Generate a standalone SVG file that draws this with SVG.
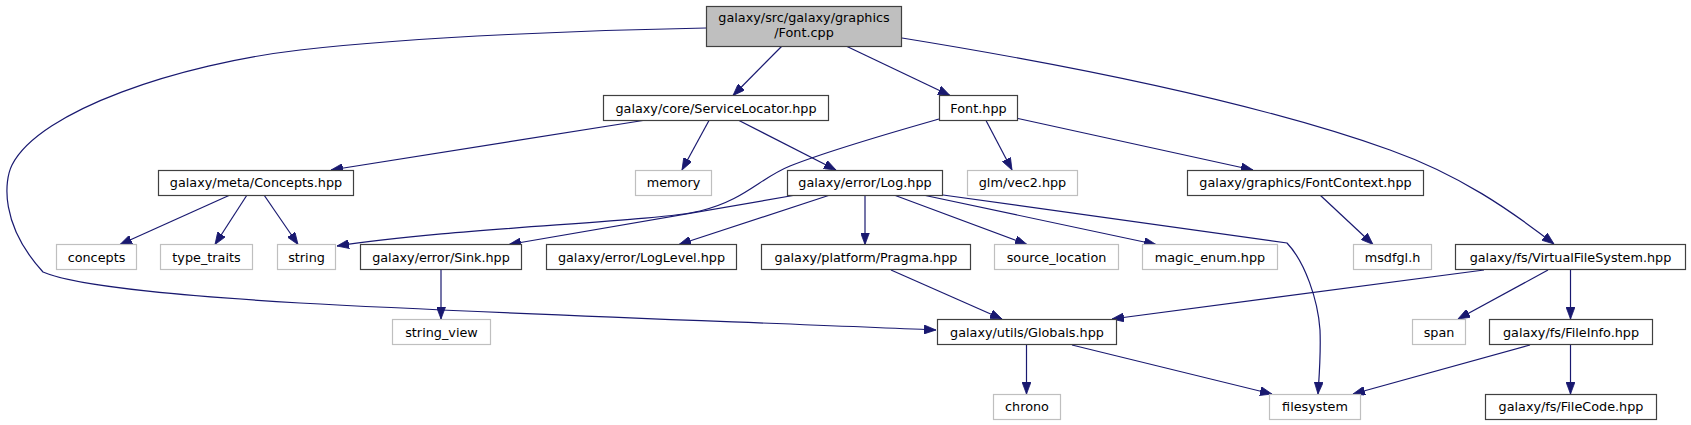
<svg xmlns="http://www.w3.org/2000/svg" width="1691" height="425" viewBox="0 0 1691 425">
<style>
  .n rect { fill: #ffffff; stroke: #404040; stroke-width: 1.2; }
  .x rect { fill: #ffffff; stroke: #bfbfbf; stroke-width: 1.2; }
  .m rect { fill: #bfbfbf; stroke: #404040; stroke-width: 1.2; }
  text { font-family: "DejaVu Sans", "Liberation Sans", sans-serif; font-size: 12.8px; fill: #000000; text-anchor: middle; }
  #edges path { fill: none; stroke: #191970; stroke-width: 1.2; marker-end: url(#arr); }
</style>
<defs>
  <marker id="arr" markerUnits="userSpaceOnUse" markerWidth="12" markerHeight="9" refX="12" refY="4.5" orient="auto">
    <path d="M0,0 L12,4.5 L0,9 Z" fill="#191970" stroke="#191970" stroke-width="0.8"/>
  </marker>
</defs>
<rect width="1691" height="425" fill="#ffffff"/>
<g id="edges">
  <path d="M782,46 L733,95.5"/>
  <path d="M846,46 L950,95.5"/>
  <path d="M706,28 C 600,30 420,36 300,50 C 180,64 40,110 12,165 C 4,181 0,225 43,272 C 80,288 200,297 300,303 C 500,314 750,322 936,330"/>
  <path d="M902,38 C 1050,62 1250,100 1390,150 C 1460,175 1510,210 1554,244"/>
  <path d="M643,120.5 L331,170"/>
  <path d="M709,120.5 L682,170"/>
  <path d="M739,120.5 L836,170"/>
  <path d="M939,119 C 890,133 830,150 790,166 C 760,178 745,200 700,211 C 655,222 450,228 337,246"/>
  <path d="M986,120.5 L1012,170"/>
  <path d="M1018,118.5 L1253,170"/>
  <path d="M230,195 L120,244.5"/>
  <path d="M247,195 L215,244.5"/>
  <path d="M264,195 L298,244.5"/>
  <path d="M796,195 L509,244.5"/>
  <path d="M830,195 L679,244.5"/>
  <path d="M865,195 L865,244.5"/>
  <path d="M894,195 L1027,244.5"/>
  <path d="M923,195 L1156,244.5"/>
  <path d="M943,195 L1287,243 C 1305,262 1318,300 1320,330 C 1321,355 1319,378 1318,394"/>
  <path d="M1320,195 L1373,244.5"/>
  <path d="M1484,270 L1112,319"/>
  <path d="M1548,270 L1458,319"/>
  <path d="M1570.5,270 L1570.5,319"/>
  <path d="M441,270 L441,319"/>
  <path d="M891,270 L1002,319"/>
  <path d="M1026.5,345 L1026.5,394"/>
  <path d="M1072,345 L1272,394"/>
  <path d="M1530,345 L1353,394"/>
  <path d="M1570.5,345 L1570.5,394"/>
</g>
<g id="font_cpp" class="m"><rect x="706.5" y="6.5" width="195" height="40"/><text x="804" y="22">galaxy/src/galaxy/graphics</text><text x="804" y="37">/Font.cpp</text></g>
<g id="service_locator" class="n"><rect x="603.5" y="95.5" width="225" height="25"/><text x="716" y="112.5">galaxy/core/ServiceLocator.hpp</text></g>
<g id="font_hpp" class="n"><rect x="939.5" y="95.5" width="78" height="25"/><text x="978.5" y="112.5">Font.hpp</text></g>
<g id="concepts_hpp" class="n"><rect x="158.5" y="170.5" width="195" height="25"/><text x="256" y="187">galaxy/meta/Concepts.hpp</text></g>
<g id="memory" class="x"><rect x="635.5" y="170.5" width="76" height="25"/><text x="673.5" y="187">memory</text></g>
<g id="log_hpp" class="n"><rect x="787.5" y="170.5" width="155" height="25"/><text x="865" y="187">galaxy/error/Log.hpp</text></g>
<g id="glm_vec2" class="x"><rect x="967.5" y="170.5" width="110" height="25"/><text x="1022.5" y="187">glm/vec2.hpp</text></g>
<g id="font_context" class="n"><rect x="1187.5" y="170.5" width="236" height="25"/><text x="1305.5" y="187">galaxy/graphics/FontContext.hpp</text></g>
<g id="concepts" class="x"><rect x="56.5" y="244.5" width="80" height="25"/><text x="96.5" y="261.5">concepts</text></g>
<g id="type_traits" class="x"><rect x="160.5" y="244.5" width="92" height="25"/><text x="206.5" y="261.5">type_traits</text></g>
<g id="string" class="x"><rect x="277.5" y="244.5" width="58" height="25"/><text x="306.5" y="261.5">string</text></g>
<g id="sink_hpp" class="n"><rect x="360.5" y="244.5" width="161" height="25"/><text x="441" y="261.5">galaxy/error/Sink.hpp</text></g>
<g id="loglevel_hpp" class="n"><rect x="546.5" y="244.5" width="190" height="25"/><text x="641.5" y="261.5">galaxy/error/LogLevel.hpp</text></g>
<g id="pragma_hpp" class="n"><rect x="761.5" y="244.5" width="209" height="25"/><text x="866" y="261.5">galaxy/platform/Pragma.hpp</text></g>
<g id="source_location" class="x"><rect x="994.5" y="244.5" width="124" height="25"/><text x="1056.5" y="261.5">source_location</text></g>
<g id="magic_enum" class="x"><rect x="1142.5" y="244.5" width="135" height="25"/><text x="1210" y="261.5">magic_enum.hpp</text></g>
<g id="msdfgl" class="x"><rect x="1353.5" y="244.5" width="78" height="25"/><text x="1392.5" y="261.5">msdfgl.h</text></g>
<g id="vfs_hpp" class="n"><rect x="1455.5" y="244.5" width="230" height="25"/><text x="1570.5" y="261.5">galaxy/fs/VirtualFileSystem.hpp</text></g>
<g id="string_view" class="x"><rect x="392.5" y="319.5" width="98" height="25"/><text x="441.5" y="336.5">string_view</text></g>
<g id="globals_hpp" class="n"><rect x="937.5" y="319.5" width="179" height="25"/><text x="1027" y="336.5">galaxy/utils/Globals.hpp</text></g>
<g id="span" class="x"><rect x="1412.5" y="319.5" width="53" height="25"/><text x="1439" y="336.5">span</text></g>
<g id="fileinfo_hpp" class="n"><rect x="1489.5" y="319.5" width="163" height="25"/><text x="1571" y="336.5">galaxy/fs/FileInfo.hpp</text></g>
<g id="chrono" class="x"><rect x="993.5" y="394.5" width="67" height="25"/><text x="1027" y="411">chrono</text></g>
<g id="filesystem" class="x"><rect x="1269.5" y="394.5" width="91" height="25"/><text x="1315" y="411">filesystem</text></g>
<g id="filecode_hpp" class="n"><rect x="1485.5" y="394.5" width="171" height="25"/><text x="1571" y="411">galaxy/fs/FileCode.hpp</text></g>
</svg>
